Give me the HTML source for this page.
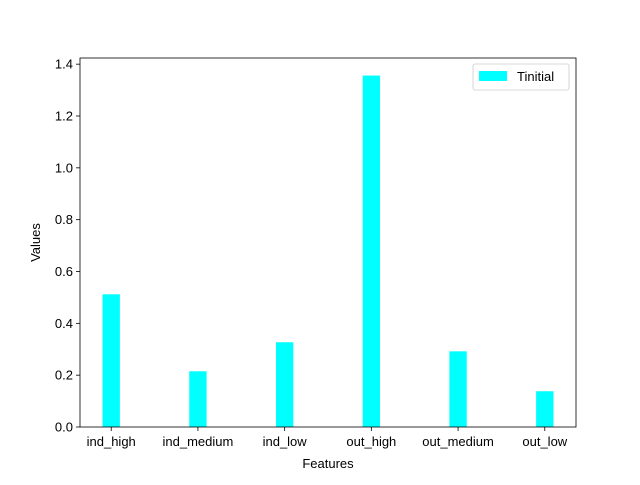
<!DOCTYPE html>
<html><head><meta charset="utf-8"><style>
body{margin:0;background:#fff}
svg text{font-family:"Liberation Sans","DejaVu Sans",sans-serif;font-size:13px;fill:#000}
</style></head><body>
<svg width="640" height="480" id="chart"></svg>
<script>
const categories=["ind_high","ind_medium","ind_low","out_high","out_medium","out_low"];
const values=[0.512,0.215,0.327,1.356,0.292,0.138];
const yTicks=[0,0.2,0.4,0.6,0.8,1.0,1.2,1.4];
const yTickLabels=["0.0","0.2","0.4","0.6","0.8","1.0","1.2","1.4"];
const L=80,R=576,T=58,B=427;
const yMax=Math.max(...values)*1.05;
const xMin=-0.36,xMax=categories.length-1+0.36;
const sx=v=>L+(v-xMin)/(xMax-xMin)*(R-L);
const sy=v=>B-v/yMax*(B-T);
const svg=document.getElementById('chart');
const NS='http://www.w3.org/2000/svg';
function mk(tag,attrs,parent){const e=document.createElementNS(NS,tag);for(const k in attrs)e.setAttribute(k,attrs[k]);(parent||svg).appendChild(e);return e;}
categories.forEach((c,i)=>{
  const w=sx(0.1)-sx(-0.1);
  const r=mk('rect',{x:sx(i)-w/2,y:sy(values[i]),width:w,height:B-sy(values[i]),fill:'#00ffff'});
  
  
  const t=mk('line',{x1:sx(i),x2:sx(i),y1:B,y2:B+4,stroke:'#000','stroke-width':0.8});
  
  
  const tx=mk('text',{x:sx(i),y:B+19,'text-anchor':'middle'});
  tx.textContent=c;
  
  
});
yTicks.forEach((v,i)=>{
  const t=mk('line',{x1:L-4,x2:L,y1:sy(v),y2:sy(v),stroke:'#000','stroke-width':0.8});
  
  
  const tx=mk('text',{x:L-7,y:sy(v)+4.5,'text-anchor':'end'});
  tx.textContent=yTickLabels[i];
  
  
});
const frame=mk('rect',{x:L,y:T,width:R-L,height:B-T,fill:'none',stroke:'#000','stroke-width':0.8});


const xl=mk('text',{x:(L+R)/2,y:468,'text-anchor':'middle'});xl.textContent='Features';


const yl=mk('text',{x:40,y:(T+B)/2,'text-anchor':'middle',transform:`rotate(-90 40 ${(T+B)/2})`});yl.textContent='Values';


const lg=mk('g',{});


mk('rect',{x:473,y:64,width:96,height:26,rx:2,fill:'#fff',stroke:'#ccc','stroke-width':0.8},lg);
mk('rect',{x:479,y:71,width:28,height:10,fill:'#00ffff'},lg);
const lt=mk('text',{x:517,y:81},lg);lt.textContent='Tinitial';


</script>
</body></html>
